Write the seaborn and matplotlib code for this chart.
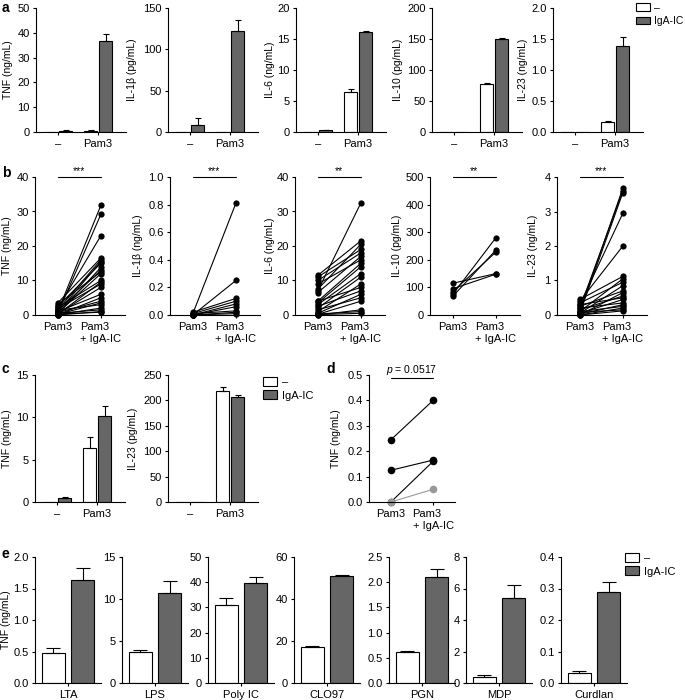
import numpy as np
import pandas as pd
import matplotlib
matplotlib.use('Agg')
import matplotlib.pyplot as plt
import matplotlib.transforms as mtransforms
from matplotlib.patches import Patch
import seaborn as sns

# ---- panel a: Pam3 stimulation, bar means + SEM ----
a_labels = ['TNF (ng/mL)', 'IL-1β (pg/mL)', 'IL-6 (ng/mL)', 'IL-10 (pg/mL)', 'IL-23 (ng/mL)']
a_stim = ['–', 'Pam3']
a_none_mean = [[0.0, 0.6], [0.0, 0.0], [0.0, 6.5], [0.0, 77], [0.0, 0.16]]
a_none_sem = [[0.0, 0.1], [0.0, 0.0], [0.0, 0.4], [0.0, 2.5], [0.0, 0.01]]
a_iga_mean = [[0.6, 36.5], [9, 122], [0.25, 16.2], [0.0, 150], [0.0, 1.38]]
a_iga_sem = [[0.1, 3.0], [8, 14], [0.05, 0.15], [0.0, 1.0], [0.0, 0.15]]
a_ymax = [50, 150, 20, 200, 2.0]
a_step = [10, 50, 5, 50, 0.5]

# ---- panel b: paired donors ----
b_labels = ['TNF (ng/mL)', 'IL-1β (ng/mL)', 'IL-6 (ng/mL)', 'IL-10 (pg/mL)', 'IL-23 (ng/mL)']
b_conditions = ['Pam3', 'Pam3\n+ IgA-IC']
b_pam3 = [
    [1.0, 0.5, 2.0, 3.5, 1.5, 0.8, 2.5, 0.3, 1.2, 3.0, 0.6, 2.2, 0.2, 1.8, 0.4, 1.0, 0.1, 0.7, 0.2, 1.4, 0.1, 0.5, 0.0, 0.3],
    [0.01, 0.0, 0.02, 0.01, 0.0, 0.0, 0.01, 0.0, 0.0],
    [7.0, 11.5, 7.5, 11.0, 10.0, 6.5, 9.0, 4.0, 3.5, 3.0, 2.0, 1.0, 4.0, 2.5, 0.5, 1.5, 0.2, 0.0, 0.3, 0.1],
    [75, 68, 85, 115, 95],
    [0.1, 0.2, 0.05, 0.3, 0.4, 0.45, 0.1, 0.35, 0.05, 0.25, 0.0, 0.15, 0.3, 0.05, 0.2, 0.02, 0.1, 0.0, 0.08, 0.0],
]
b_iga = [
    [31.8, 29.2, 23.0, 16.5, 16.0, 15.5, 15.0, 13.8, 13.0, 12.5, 12.0, 10.0, 9.5, 9.0, 8.0, 6.0, 5.0, 4.0, 3.5, 3.0, 2.0, 1.5, 1.0, 0.8],
    [0.81, 0.25, 0.12, 0.10, 0.08, 0.06, 0.03, 0.02, 0.01],
    [32.5, 21.5, 20.5, 19.0, 18.0, 17.0, 16.0, 15.0, 14.0, 12.0, 11.0, 9.0, 8.0, 7.0, 6.0, 5.0, 4.0, 1.5, 1.0, 0.5],
    [280, 235, 228, 150, 148],
    [3.68, 3.6, 3.55, 2.95, 2.0, 1.12, 1.05, 0.95, 0.85, 0.7, 0.65, 0.55, 0.5, 0.45, 0.35, 0.3, 0.25, 0.2, 0.15, 0.12],
]
b_stars = ['***', '***', '**', '**', '***']
b_ymax = [40, 1.0, 40, 500, 4]
b_step = [10, 0.2, 10, 100, 1]

# ---- panel c ----
c_labels = ['TNF (ng/mL)', 'IL-23 (pg/mL)']
c_none_mean = [[0.0, 6.4], [0.0, 219]]
c_none_sem = [[0.0, 1.3], [0.0, 7]]
c_iga_mean = [[0.5, 10.2], [0.0, 207]]
c_iga_sem = [[0.05, 1.1], [0.0, 4]]
c_ymax = [15, 250]
c_step = [5, 50]

# ---- panel d ----
d_pam3 = [0.245, 0.125, 0.0, 0.0]
d_iga = [0.40, 0.165, 0.16, 0.05]
d_group = ['high', 'high', 'high', 'low']

# ---- panel e ----
e_stimuli = ['LTA', 'LPS', 'Poly IC', 'CLO97', 'PGN', 'MDP', 'Curdlan']
e_none_mean = [0.48, 3.7, 31, 17, 0.62, 0.38, 0.032]
e_none_sem = [0.07, 0.2, 2.8, 0.5, 0.02, 0.13, 0.006]
e_iga_mean = [1.63, 10.7, 39.5, 51.0, 2.1, 5.37, 0.29]
e_iga_sem = [0.2, 1.4, 2.7, 0.5, 0.16, 0.88, 0.03]
e_ymax = [2.0, 15, 50, 60, 2.5, 8, 0.4]
e_step = [0.5, 5, 10, 20, 0.5, 2, 0.1]

GRAY = '#666666'
pal = {'–': 'white', 'IgA-IC': GRAY}

sns.set_style('ticks')
plt.rcParams['font.family'] = ['Liberation Sans', 'DejaVu Sans']
plt.rcParams.update({
    'mathtext.fontset': 'custom',
    'mathtext.it': 'Liberation Sans:italic',
    'mathtext.rm': 'Liberation Sans',
    'font.size': 8, 'axes.labelsize': 7.5,
    'xtick.labelsize': 8, 'ytick.labelsize': 8,
    'axes.linewidth': 0.8, 'axes.edgecolor': 'black',
    'text.color': 'black', 'axes.labelcolor': 'black',
    'xtick.color': 'black', 'ytick.color': 'black',
    'xtick.major.size': 2.5, 'ytick.major.size': 2.5,
    'xtick.major.width': 0.8, 'ytick.major.width': 0.8,
    'xtick.major.pad': 2.5, 'ytick.major.pad': 2,
})

W, H = 685, 700
fig = plt.figure(figsize=(W / 100, H / 100), dpi=100)


def new_ax(left, top, width, bottom):
    return fig.add_axes([left / W, 1 - bottom / H, width / W, (bottom - top) / H])


def finish(ax, ymax, step, ylabel, label_px, left, width, xlim):
    ax.set_ylim(0, ymax)
    ax.set_yticks(np.arange(0, ymax + step / 2, step))
    ax.set_xlim(*xlim)
    ax.set_xlabel('')
    ax.set_ylabel(ylabel)
    ax.yaxis.set_label_coords((label_px - left) / width, 0.5)
    sns.despine(ax=ax)


def bars(ax, cats, none_mean, none_sem, iga_mean, iga_sem, width, gap, capsize):
    df = pd.DataFrame({
        'stim': list(cats) * 2,
        'treat': ['–'] * len(cats) + ['IgA-IC'] * len(cats),
        'val': list(none_mean) + list(iga_mean),
    })
    sns.barplot(data=df, x='stim', y='val', hue='treat', hue_order=['–', 'IgA-IC'],
                palette=pal, width=width, gap=gap, edgecolor='black', linewidth=0.8,
                errorbar=None, legend=False, ax=ax)
    for k, (means, sems) in enumerate([(none_mean, none_sem), (iga_mean, iga_sem)]):
        off = (k - 0.5) * width / 2
        for i, (m, s) in enumerate(zip(means, sems)):
            if s > 0:
                ax.errorbar(i + off, m, yerr=[[0], [s]], fmt='none', ecolor='black',
                            elinewidth=0.8, capsize=capsize, capthick=0.8, zorder=3)


def pairs(ax, before, after, groups, palette, ms):
    n = len(before)
    df = pd.DataFrame({'donor': list(range(n)) * 2, 'cond': [0] * n + [1] * n,
                       'val': list(before) + list(after), 'grp': list(groups) * 2})
    sns.lineplot(data=df, x='cond', y='val', units='donor', estimator=None, hue='grp',
                 palette=palette, lw=0.8, marker='o', markersize=ms, markeredgewidth=0,
                 legend=False, clip_on=False, ax=ax)
    ax.set_xticks([0, 1])
    ax.set_xticklabels(b_conditions, multialignment='left', linespacing=1.3)


def sig(ax, y, text):
    tr = mtransforms.blended_transform_factory(ax.transData, ax.transAxes)
    ax.plot([0, 1], [y, y], transform=tr, color='black', lw=0.8, clip_on=False)
    ax.text(0.5, y + 0.005, text, transform=tr, ha='center', va='bottom', fontsize=7.5)


def legend_at(x, y, size=8):
    handles = [Patch(facecolor='white', edgecolor='black', linewidth=0.8, label='–'),
               Patch(facecolor=GRAY, edgecolor='black', linewidth=0.8, label='IgA-IC')]
    fig.legend(handles=handles, loc='upper left', bbox_to_anchor=(x / W, 1 - y / H),
               frameon=False, fontsize=size, handlelength=1.3, handleheight=0.8,
               handletextpad=0.4, labelspacing=0.3, borderpad=0, borderaxespad=0)


# panel a
a_left = [36, 168, 296, 432, 553]
a_lab = [13, 137, 275, 403, 528]
for j in range(5):
    ax = new_ax(a_left[j], 8, 90, 132)
    bars(ax, a_stim, a_none_mean[j], a_none_sem[j], a_iga_mean[j], a_iga_sem[j], 0.75, 0.1, 2.5)
    finish(ax, a_ymax[j], a_step[j], a_labels[j], a_lab[j], a_left[j], 90, (-0.55, 1.7))
legend_at(636, 3, 7.5)

# panel b
b_left = [35, 170, 295, 430, 557]
b_lab = [12, 143, 275, 402, 538]
for j in range(5):
    ax = new_ax(b_left[j], 177, 90, 315)
    pairs(ax, b_pam3[j], b_iga[j], ['all'] * len(b_pam3[j]), {'all': 'black'}, 4.5)
    finish(ax, b_ymax[j], b_step[j], b_labels[j], b_lab[j], b_left[j], 90, (-0.53, 1.56))
    sig(ax, 1.0, b_stars[j])

# panel c
c_left = [35, 168]
c_lab = [12, 138]
for j in range(2):
    ax = new_ax(c_left[j], 375, 90, 502)
    bars(ax, a_stim, c_none_mean[j], c_none_sem[j], c_iga_mean[j], c_iga_sem[j], 0.75, 0.1, 2.5)
    finish(ax, c_ymax[j], c_step[j], c_labels[j], c_lab[j], c_left[j], 90, (-0.55, 1.7))
legend_at(263, 377)

# panel d
ax = new_ax(369, 375, 86, 502)
pairs(ax, d_pam3, d_iga, d_group, {'high': 'black', 'low': '#999999'}, 5.5)
finish(ax, 0.5, 0.1, 'TNF (ng/mL)', 341, 369, 86, (-0.52, 1.52))
sig(ax, 0.976, r'$p$ = 0.0517')

# panel e
e_left = [35, 122, 208, 294, 389, 466, 561]
for j in range(7):
    ax = new_ax(e_left[j], 557, 66, 683)
    bars(ax, [e_stimuli[j]], [e_none_mean[j]], [e_none_sem[j]], [e_iga_mean[j]], [e_iga_sem[j]],
         0.8, 0.2, 5)
    finish(ax, e_ymax[j], e_step[j], 'TNF (ng/mL)' if j == 0 else '', 11, e_left[j], 66, (-0.45, 0.45))
legend_at(625, 553)

for letter, x, y in [('a', 2, 1), ('b', 2, 166), ('c', 2, 362), ('d', 326, 362), ('e', 2, 547)]:
    fig.text(x / W, 1 - y / H, letter, fontsize=10, fontweight='bold', va='top', ha='left')

fig.savefig('out.png', dpi=100)
